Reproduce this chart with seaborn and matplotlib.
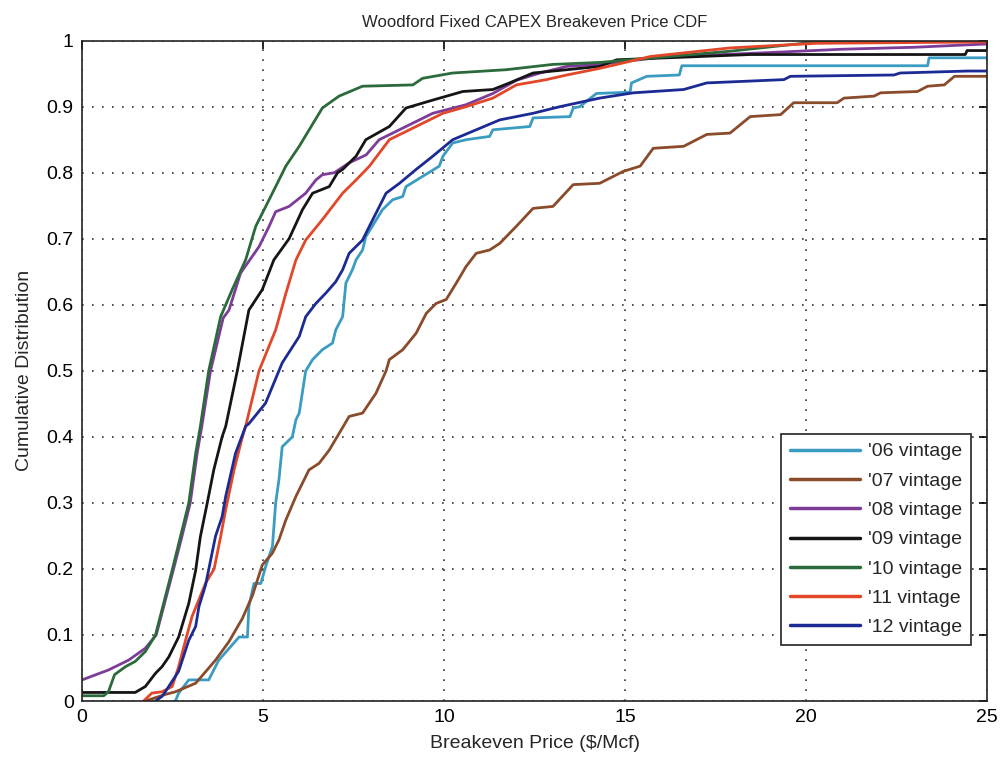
import matplotlib
matplotlib.use("Agg")
import matplotlib.pyplot as plt
import seaborn as sns
import pandas as pd

# ---- data (x = breakeven price $/Mcf, y = cumulative fraction) ----
vintages = ["'06 vintage", "'07 vintage", "'08 vintage", "'09 vintage",
            "'10 vintage", "'11 vintage", "'12 vintage"]

cdf_06 = [(2.58, 0.0), (2.67, 0.012), (2.95, 0.032), (3.5, 0.032), (3.78, 0.062), (4.34, 0.097),
          (4.57, 0.097), (4.61, 0.143), (4.75, 0.178), (4.94, 0.178), (5.07, 0.203), (5.26, 0.234),
          (5.35, 0.30), (5.44, 0.335), (5.53, 0.385), (5.81, 0.40), (5.91, 0.426), (6.0, 0.436),
          (6.18, 0.50), (6.37, 0.517), (6.64, 0.532), (6.92, 0.542), (7.01, 0.562), (7.2, 0.582),
          (7.29, 0.633), (7.47, 0.653), (7.57, 0.668), (7.75, 0.683), (7.84, 0.703), (8.3, 0.744),
          (8.58, 0.759), (8.86, 0.764), (8.95, 0.779), (9.87, 0.81), (9.97, 0.825), (10.24, 0.845),
          (10.61, 0.85), (11.26, 0.855), (11.35, 0.865), (12.37, 0.87), (12.46, 0.883), (13.48, 0.885),
          (13.57, 0.898), (13.75, 0.90), (14.21, 0.92), (15.14, 0.922), (15.18, 0.936), (15.6, 0.946),
          (16.5, 0.948), (16.57, 0.962), (23.36, 0.962), (23.4, 0.974), (25.0, 0.974)]

cdf_07 = [(1.75, 0.0), (2.3, 0.01), (2.58, 0.014), (3.14, 0.027), (3.69, 0.062), (4.06, 0.09),
          (4.43, 0.125), (4.71, 0.16), (4.98, 0.206), (5.26, 0.224), (5.44, 0.244), (5.63, 0.274),
          (5.91, 0.31), (6.27, 0.35), (6.55, 0.36), (6.83, 0.38), (7.1, 0.405), (7.38, 0.431),
          (7.75, 0.436), (8.12, 0.466), (8.4, 0.50), (8.49, 0.517), (8.86, 0.532), (9.23, 0.557),
          (9.51, 0.587), (9.78, 0.602), (10.06, 0.608), (10.34, 0.633), (10.61, 0.658), (10.89, 0.678),
          (11.26, 0.683), (11.54, 0.693), (12.0, 0.719), (12.46, 0.746), (13.01, 0.749), (13.57, 0.782),
          (14.3, 0.784), (14.95, 0.802), (15.42, 0.81), (15.78, 0.837), (16.62, 0.84), (17.26, 0.858),
          (17.9, 0.86), (18.46, 0.885), (19.3, 0.888), (19.66, 0.906), (20.86, 0.906), (21.05, 0.913),
          (21.88, 0.916), (22.06, 0.921), (23.08, 0.923), (23.36, 0.931), (23.82, 0.933), (24.1, 0.946),
          (25.0, 0.946)]

cdf_08 = [(0.0, 0.032), (0.73, 0.047), (1.29, 0.062), (1.75, 0.08), (2.05, 0.10), (2.52, 0.198),
          (2.76, 0.249), (2.99, 0.30), (3.18, 0.375), (3.31, 0.416), (3.55, 0.50), (3.9, 0.58),
          (4.06, 0.592), (4.38, 0.648), (4.89, 0.688), (5.17, 0.719), (5.35, 0.741), (5.72, 0.749),
          (6.18, 0.769), (6.46, 0.789), (6.64, 0.797), (6.97, 0.80), (7.38, 0.815), (7.85, 0.827),
          (8.21, 0.85), (8.95, 0.87), (9.69, 0.89), (10.61, 0.903), (11.35, 0.92), (12.0, 0.94),
          (12.65, 0.951), (13.39, 0.961), (14.3, 0.964), (16.0, 0.975), (19.0, 0.982), (21.0, 0.987),
          (23.0, 0.99), (25.0, 0.995)]

cdf_09 = [(0.0, 0.013), (1.47, 0.013), (1.75, 0.022), (2.03, 0.042), (2.21, 0.052), (2.4, 0.067),
          (2.67, 0.097), (2.95, 0.148), (3.14, 0.198), (3.27, 0.249), (3.46, 0.30), (3.64, 0.35),
          (3.87, 0.40), (3.97, 0.416), (4.29, 0.50), (4.61, 0.592), (4.98, 0.623), (5.30, 0.668),
          (5.72, 0.70), (6.09, 0.744), (6.37, 0.769), (6.83, 0.779), (7.06, 0.80), (7.2, 0.805),
          (7.57, 0.825), (7.84, 0.85), (8.49, 0.87), (8.95, 0.898), (9.69, 0.91), (10.52, 0.923),
          (11.35, 0.926), (11.81, 0.936), (12.46, 0.951), (13.39, 0.956), (14.3, 0.961), (14.77, 0.971),
          (18.46, 0.979), (24.4, 0.979), (24.45, 0.985), (25.0, 0.985)]

cdf_10 = [(0.0, 0.008), (0.6, 0.008), (0.73, 0.014), (0.9, 0.04), (1.2, 0.052), (1.47, 0.06),
          (1.75, 0.075), (2.03, 0.10), (2.49, 0.198), (2.72, 0.249), (2.95, 0.30), (3.14, 0.375),
          (3.27, 0.416), (3.5, 0.50), (3.83, 0.582), (4.15, 0.623), (4.52, 0.668), (4.80, 0.719),
          (5.03, 0.744), (5.35, 0.779), (5.63, 0.81), (6.0, 0.84), (6.64, 0.898), (7.1, 0.916),
          (7.75, 0.931), (9.14, 0.933), (9.41, 0.943), (10.24, 0.951), (11.72, 0.956), (13.0, 0.964),
          (14.3, 0.967), (17.9, 0.984), (19.76, 0.995), (20.5, 1.0), (25.0, 1.0)]

cdf_11 = [(1.7, 0.0), (1.93, 0.012), (2.21, 0.014), (2.49, 0.022), (2.67, 0.052), (2.86, 0.092),
          (3.04, 0.128), (3.41, 0.178), (3.65, 0.20), (3.83, 0.249), (3.97, 0.29), (4.2, 0.35),
          (4.43, 0.40), (4.52, 0.416), (4.89, 0.50), (5.35, 0.562), (5.63, 0.617), (5.91, 0.668),
          (6.18, 0.698), (6.64, 0.729), (7.2, 0.769), (7.57, 0.789), (7.94, 0.81), (8.49, 0.85),
          (9.23, 0.87), (9.97, 0.89), (10.61, 0.90), (11.35, 0.913), (12.0, 0.933), (12.83, 0.941),
          (13.39, 0.948), (14.3, 0.958), (14.77, 0.964), (15.7, 0.976), (17.9, 0.989), (20.3, 0.996),
          (25.0, 0.998)]

cdf_12 = [(2.03, 0.0), (2.21, 0.007), (2.3, 0.014), (2.67, 0.045), (2.95, 0.092), (3.14, 0.113),
          (3.23, 0.143), (3.41, 0.175), (3.69, 0.25), (3.87, 0.279), (3.97, 0.31), (4.24, 0.375),
          (4.52, 0.416), (4.61, 0.42), (5.07, 0.451), (5.53, 0.512), (6.0, 0.552), (6.18, 0.582),
          (6.46, 0.602), (6.74, 0.618), (7.01, 0.635), (7.2, 0.653), (7.38, 0.678), (7.75, 0.698),
          (7.94, 0.719), (8.4, 0.769), (8.77, 0.784), (9.23, 0.805), (9.69, 0.825), (10.24, 0.85),
          (10.89, 0.865), (11.54, 0.88), (12.46, 0.89), (13.2, 0.90), (14.3, 0.913), (15.23, 0.921),
          (16.62, 0.926), (17.26, 0.936), (19.39, 0.941), (19.57, 0.946), (22.43, 0.948), (22.6, 0.951),
          (24.47, 0.954), (25.0, 0.954)]

series = [cdf_06, cdf_07, cdf_08, cdf_09, cdf_10, cdf_11, cdf_12]
colors = ["#3b9cc2", "#8a4b2b", "#7d3c98", "#151515", "#2b6b3b", "#e2472a", "#1c2a94"]

x_ticks = [0, 5, 10, 15, 20, 25]
y_ticks = [0, 0.1, 0.2, 0.3, 0.4, 0.5, 0.6, 0.7, 0.8, 0.9, 1]
y_tick_labels = ["0", "0.1", "0.2", "0.3", "0.4", "0.5", "0.6", "0.7", "0.8", "0.9", "1"]

# ---- build long table ----
rows = []
for name, pts in zip(vintages, series):
    for order, (x, y) in enumerate(pts):
        rows.append({"price": x, "cdf": y, "vintage": name, "order": order})
df = pd.DataFrame(rows)

sns.set_style("white")
plt.rcParams["font.family"] = ["Liberation Sans", "DejaVu Sans"]

fig = plt.figure(figsize=(10, 7.67), dpi=100)
ax = fig.add_axes([0.082, 0.086, 0.905, 0.861])

sns.lineplot(data=df, x="price", y="cdf", hue="vintage", hue_order=vintages,
             palette=dict(zip(vintages, colors)), sort=False, estimator=None,
             units="vintage", linewidth=2.0, ax=ax, legend=False)

ax.set_xlim(0, 25)
ax.set_ylim(0, 1)
ax.set_xticks(x_ticks)
ax.set_xticklabels([str(t) for t in x_ticks])
ax.set_yticks(y_ticks)
ax.set_yticklabels(y_tick_labels)
ax.tick_params(direction="in", length=6, width=1.2, top=True, right=True,
               labelsize=14, colors="black", pad=6)
ax.grid(True, linestyle=(0, (1, 5)), color="#333333", linewidth=1.2)
for s in ax.spines.values():
    s.set_visible(True)
    s.set_color("#222222")
    s.set_linewidth(1.2)

ax.set_xlabel("Breakeven Price ($/Mcf)", fontsize=14, labelpad=6)
ax.set_ylabel("Cumulative Distribution", fontsize=14, labelpad=10)
ax.set_title("Woodford Fixed CAPEX Breakeven Price CDF", fontsize=12, pad=10)

handles = [plt.Line2D([], [], color=c, linewidth=2.5) for c in colors]
leg = ax.legend(handles, vintages, loc="lower right", bbox_to_anchor=(0.982, 0.085),
                borderaxespad=0, fontsize=14, handlelength=3.6, labelspacing=0.6,
                frameon=True, fancybox=False, edgecolor="#222222", framealpha=1,
                borderpad=0.45, handletextpad=0.4)
leg.get_frame().set_linewidth(1.2)

fig.savefig("out.png", dpi=100, facecolor="white")
